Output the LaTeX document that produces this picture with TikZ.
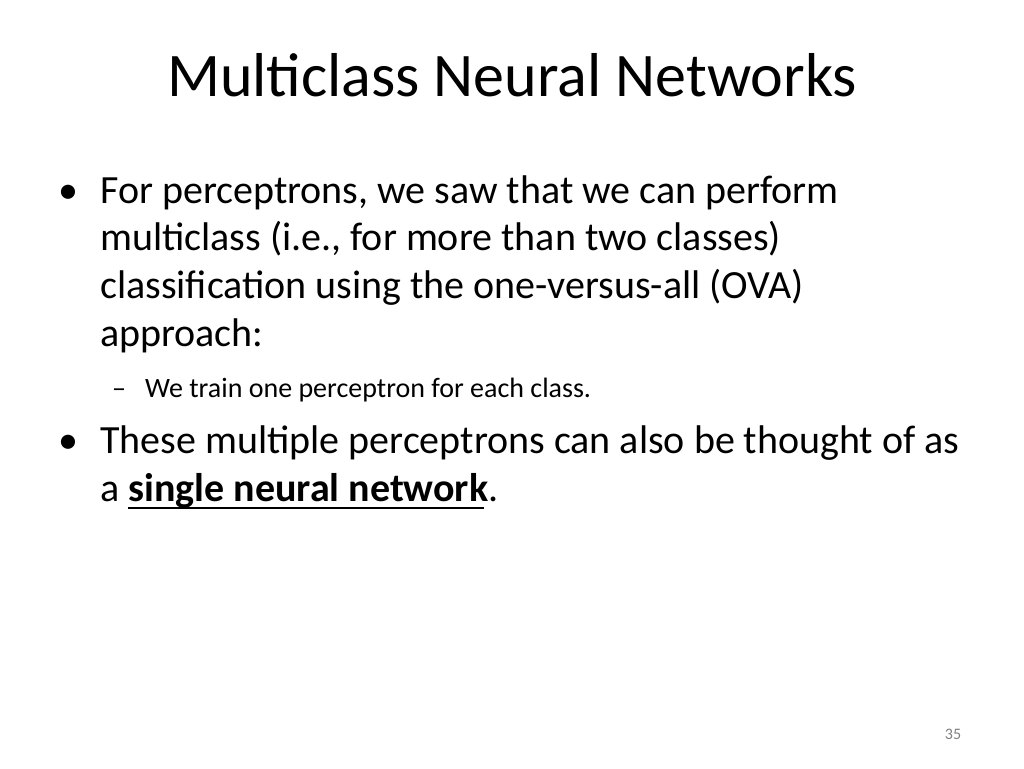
\documentclass[tikz,border=0pt]{standalone}
\usepackage{fontspec}
\setmainfont{Carlito}
\usetikzlibrary{positioning}
\tikzset{line/.style={anchor=base west,inner sep=0pt,font=\fontsize{40}{48}\selectfont},
  subline/.style={anchor=base west,inner sep=0pt,font=\fontsize{28}{34}\selectfont}}
\begin{document}
\begin{tikzpicture}[x=1pt,y=-1pt]
\useasboundingbox (0,0) rectangle (1024,768);
\node[anchor=base,inner sep=0pt,font=\fontsize{62}{70}\selectfont] (title) at (512,96) {Multiclass Neural Networks};
% first bullet
\node[line] (b_1) at (58,203) {\textbullet};
\node[line] (l_1) at (100,203) {For perceptrons, we saw that we can perform};
\node[line] (l_2) at (100,250) {multiclass (i.e., for more than two classes)};
\node[line] (l_3) at (100,298) {classification using the one-versus-all (OVA)};
\node[line] (l_4) at (100,346) {approach:};
\node[subline] (d_1) at (112,397) {--};
\node[subline] (s_1) at (145,397) {We train one perceptron for each class.};
% second bullet
\node[line] (b_2) at (58,453) {\textbullet};
\node[line] (l_5) at (100,453) {These multiple perceptrons can also be thought of as};
\node[line] (l_6) at (100,501) {a \textbf{single neural network}.};
\draw[line width=2pt] (128,508) -- (484,508);
\node[anchor=base,inner sep=0pt,font=\fontsize{16}{18}\selectfont,text=gray] (page) at (953,739) {35};
\end{tikzpicture}
\end{document}
